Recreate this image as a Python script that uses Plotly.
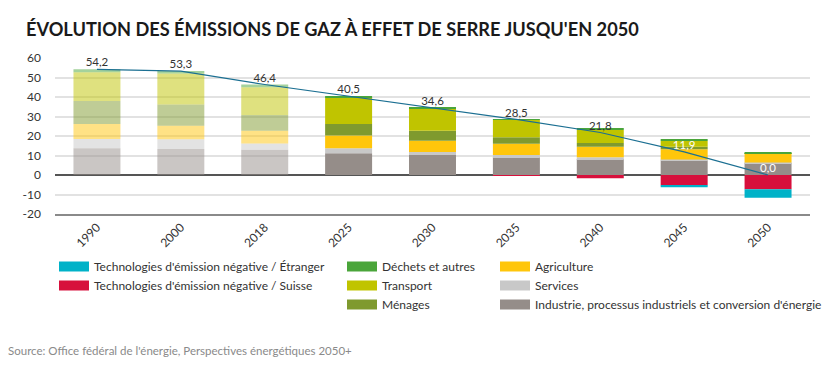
import plotly.graph_objects as go

years = ["1990", "2000", "2018", "2025", "2030", "2035", "2040", "2045", "2050"]
historical = ["1990", "2000", "2018"]

industrie = [13.7, 13.3, 13.0, 11.1, 10.3, 9.2, 8.2, 7.4, 6.1]
services = [4.8, 5.0, 3.1, 2.6, 1.5, 1.0, 0.9, 0.6, 0.3]
agriculture = [7.7, 7.0, 6.6, 6.5, 5.8, 5.8, 5.4, 5.2, 4.6]
menages = [11.8, 10.8, 8.1, 6.0, 5.1, 3.4, 1.9, 1.3, 0.1]
transport = [14.7, 15.9, 14.2, 13.6, 11.3, 8.9, 6.7, 3.1, 0.1]
dechets = [1.5, 1.3, 1.4, 0.7, 0.6, 0.4, 0.5, 0.5, 0.5]
net_suisse = [0, 0, 0, 0, 0, -0.3, -1.7, -5.3, -7.3]
net_etranger = [0, 0, 0, 0, 0, 0, 0, -1.0, -4.4]
total = [54.2, 53.3, 46.4, 40.5, 34.6, 28.5, 21.8, 11.9, 0.0]
y_ticks = [-20, -10, 0, 10, 20, 30, 40, 50, 60]

series = [
    ("Industrie, processus industriels et conversion d'énergie", industrie, (149, 141, 137)),
    ("Services", services, (200, 200, 200)),
    ("Agriculture", agriculture, (255, 198, 11)),
    ("Ménages", menages, (127, 154, 46)),
    ("Transport", transport, (192, 196, 0)),
    ("Déchets et autres", dechets, (74, 165, 58)),
    ("Technologies d'émission négative / Suisse", net_suisse, (215, 16, 60)),
    ("Technologies d'émission négative / Étranger", net_etranger, (0, 178, 200)),
]

FONT = "Lato"
# the page body adds an 8px offset, so the figure is 8px smaller than the window
W, H = 822, 360
ML, MR, MT, MB = 47, 20, 50, 154
PW, PH = W - ML - MR, H - MT - MB

fig = go.Figure()

for name, vals, rgb in series:
    cols = [
        f"rgba({rgb[0]},{rgb[1]},{rgb[2]},{0.5 if y in historical else 1})" for y in years
    ]
    fig.add_trace(go.Bar(
        x=years, y=vals, name=name, marker=dict(color=cols, line=dict(width=0)),
        showlegend=False, hoverinfo="skip",
    ))

label_colors = ["#ffffff" if v < 15 else "#333333" for v in total]

fig.add_trace(go.Scatter(
    x=years, y=total, mode="lines+text",
    line=dict(color="#1b6f92", width=1.2),
    text=[f"{v:.1f}".replace(".", ",") for v in total],
    textposition="top center",
    textfont=dict(family=FONT, size=11.5, color=label_colors),
    showlegend=False, hoverinfo="skip",
))

legend_order = {
    "legend": ["Technologies d'émission négative / Étranger", "Technologies d'émission négative / Suisse"],
    "legend2": ["Déchets et autres", "Transport", "Ménages"],
    "legend3": ["Agriculture", "Services", "Industrie, processus industriels et conversion d'énergie"],
}
lookup = {s[0]: s for s in series}
for lg, names in legend_order.items():
    for nm in names:
        rgb = lookup[nm][2]
        fig.add_trace(go.Scatter(
            x=[years[0]], y=[None], mode="lines", name=nm,
            line=dict(color=f"rgb({rgb[0]},{rgb[1]},{rgb[2]})", width=12),
            legend=lg, showlegend=True, hoverinfo="skip",
        ))

leg_common = dict(
    xref="container", yref="container", xanchor="left", yanchor="top",
    font=dict(family=FONT, size=12, color="#333333"),
    bgcolor="rgba(0,0,0,0)", traceorder="normal", tracegroupgap=0,
    itemclick=False, itemdoubleclick=False,
)
LEG_Y = 1 - 244 / H

fig.update_layout(
    width=W, height=H,
    margin=dict(l=ML, r=MR, t=MT, b=MB, autoexpand=False),
    paper_bgcolor="white", plot_bgcolor="white",
    barmode="relative", bargap=0.44,
    font=dict(family=FONT, color="#333333"),
    title=dict(
        text="<b>ÉVOLUTION DES ÉMISSIONS DE GAZ À EFFET DE SERRE JUSQU'EN 2050</b>",
        x=18 / W, xref="container", xanchor="left",
        y=1 - 21.5 / H, yref="container", yanchor="middle",
        font=dict(family=FONT, size=18.2, color="#1a1a1a"),
    ),
    xaxis=dict(
        type="category", categoryorder="array", categoryarray=years,
        range=[-0.5, len(years) - 0.5],
        tickangle=-45, showgrid=False,
        tickfont=dict(family=FONT, size=12, color="#333333"),
        showline=True, linecolor="#8a8a8a", linewidth=1.5, zeroline=False,
    ),
    yaxis=dict(
        range=[-20, 60], tickvals=y_ticks, ticktext=[str(t) for t in y_ticks],
        showgrid=True, gridcolor="#e2e2e2", gridwidth=1.5,
        zeroline=True, zerolinecolor="#555555", zerolinewidth=1.5,
        tickfont=dict(family=FONT, size=12, color="#333333"),
        ticklabelstandoff=13,
    ),
    legend=dict(x=46 / W, y=LEG_Y, **leg_common),
    legend2=dict(x=334 / W, y=LEG_Y, **leg_common),
    legend3=dict(x=487 / W, y=LEG_Y, **leg_common),
    annotations=[dict(
        text="Source: Office fédéral de l'énergie, Perspectives énergétiques 2050+",
        xref="paper", yref="paper", x=(-1 - ML) / PW, y=(H - MB - 342) / PH,
        xanchor="left", yanchor="middle", showarrow=False, borderpad=0,
        font=dict(family=FONT, size=11.5, color="#8a8a8a"),
    )],
)

fig.write_html("out.html")
